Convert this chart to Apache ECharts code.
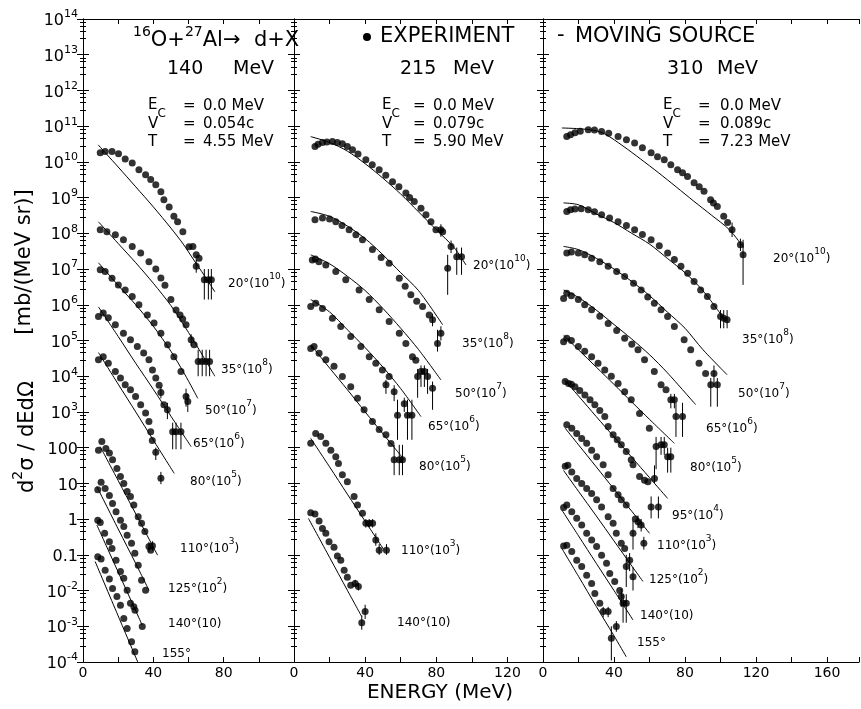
<!DOCTYPE html>
<html><head><meta charset="utf-8">
<script src="https://cdn.jsdelivr.net/npm/echarts@6/dist/echarts.min.js"></script>
<style>html,body{margin:0;padding:0;background:#fff}#c{width:861px;height:709px}</style>
</head><body><div id="c"></div>
<script>
// ---------- axis tick labels ----------
const yTickLabels = ['10^-4','10^-3','10^-2','0.1','1','10','100','10^3','10^4','10^5','10^6','10^7','10^8','10^9','10^10','10^11','10^12','10^13','10^14'];
const xLabels1 = [0,40,80];
const xLabels2 = [0,40,80,120];
const xLabels3 = [0,40,80,120,160];
const xMax = [120,140,178];

// ---------- Panel 1 : 140 MeV  (d = data, f = moving-source fit, e = error bars [E, high, low]) ----------
const p1_d20 = [[9.8,1.8e10],[12.6,1.95e10],[16.5,1.95e10],[20.2,1.7e10],[24,1.2e10],[28,9.3e9],[31.8,6.0e9],[35.6,4.4e9],[38.5,3.2e9],[41.4,2.3e9],[44.3,1.45e9],[46,8.7e8],[49,5.5e8],[51.7,3.0e8],[53.8,2.1e8],[56.8,1.1e8],[60.3,4.2e7],[62.5,4.3e7],[64.4,2.5e7],[66,2.0e7],[64.4,1.2e7],[69,5.0e6],[71.3,5.0e6],[73,5.0e6]];
const p1_f20 = [[8.6,3.0e10],[20,7.2e9],[30,2.0e9],[40,5.5e8],[50,1.4e8],[57,5.0e7],[63,1.8e7],[69,6.6e6],[75,2.3e6]];
const p1_e20 = [[64.4,1.8e7,7.9e6],[69,1.0e7,1.4e6],[71.3,1.0e7,1.4e6],[73,1.0e7,1.4e6]];
const p1_d35 = [[9.8,1.26e8],[13.6,1.1e8],[18.4,9.1e7],[23,6.6e7],[28,4.3e7],[32.8,2.8e7],[37.5,1.6e7],[41.4,1.0e7],[44.3,5.6e6],[46.6,3.5e6],[50,1.4e6],[52.9,7.1e5],[55.2,5.2e5],[56.7,4.0e5],[58.6,2.75e5],[61.5,1.05e5],[63.2,7.6e4],[65.5,2.6e4],[67.8,2.6e4],[70,2.6e4],[72,2.6e4]];
const p1_f35 = [[8.8,2.1e8],[20,5.2e7],[30,1.5e7],[40,4.0e6],[50,9.5e5],[58,2.4e5],[66,5.6e4],[75,1.0e4]];
const p1_e35 = [[61.5,1.5e5,7e4],[65.5,5.5e4,1.0e4],[67.8,5.5e4,1.0e4],[70,5.5e4,1.0e4],[72,5.5e4,1.0e4]];
const p1_d50 = [[9.8,9.5e6],[12.6,8.5e6],[16.5,5.5e6],[20.1,3.6e6],[24,2.6e6],[28,1.7e6],[31.8,1.0e6],[36.6,5.2e5],[40.4,3.1e5],[44.3,1.6e5],[48.1,7.6e4],[51.7,3.5e4],[55.7,1.35e4],[58.6,2.7e3],[59.6,1.95e3]];
const p1_f50 = [[8.8,1.5e7],[20,3.5e6],[30,1.0e6],[40,2.5e5],[50,5.0e4],[58,1.1e4],[65.3,2.4e3]];
const p1_e50 = [[58.6,4.5e3,1.4e3],[59.6,3.2e3,1.0e3]];
const p1_d65 = [[8.8,4.7e5],[11.5,5.9e5],[14.4,4.3e5],[18.4,2.75e5],[23,1.6e5],[27,1.05e5],[30.9,6.8e4],[34.5,4.5e4],[37.5,2.9e4],[39.5,1.5e4],[41.4,8.9e3],[43.3,5.6e3],[44.3,3.5e3],[46,1.6e3],[48,1.15e3],[51,280],[52.9,280],[55.7,280]];
const p1_f65 = [[8.8,8.7e5],[20,1.3e5],[30,2.3e4],[40,4.3e3],[50,760],[61.5,107]];
const p1_e65 = [[44.3,5e3,2.4e3],[48,1.8e3,630],[51,500,90],[52.9,500,90],[55.7,500,90]];
const p1_d80 = [[8.8,2.9e4],[11.5,3.5e4],[14.4,2.3e4],[18.4,1.35e4],[21.3,8.9e3],[24,5.8e3],[27,4.2e3],[29.9,2.7e3],[32.8,1.6e3],[35.6,930],[37.5,540],[38.5,280],[39.4,160],[41.4,74],[44.3,14]];
const p1_f80 = [[8.8,4.6e4],[20,6.0e3],[30,1.0e3],[40,162],[51.9,19]];
const p1_e80 = [[41.4,100,45],[44.3,21,9.5]];
const p1_d110 = [[8.8,85],[10.7,148],[13,95],[15,71],[16.8,46],[19.3,26],[21.3,15.5],[23.2,10],[25.1,5.9],[27,4.3],[28.9,2.5],[31.4,1.17],[33.3,0.76],[35.2,0.45],[37.5,0.17],[38.5,0.135],[39.5,0.18]];
const p1_f110 = [[9.8,107],[20,12],[30,1.4],[42.4,0.098]];
const p1_e110 = [[37.5,0.23,0.12],[39.5,0.24,0.13]];
const p1_d125 = [[8.4,6.6],[10.3,10.7],[12.6,7.2],[15,4.6],[16.8,2.75],[18.8,1.6],[21.3,0.93],[23.2,0.62],[25.1,0.355],[27.6,0.21],[29.5,0.11],[31.4,0.051],[33.3,0.0195],[35.6,0.0102]];
const p1_f125 = [[7.9,8.1],[20,0.53],[30,0.057],[37.5,0.0102]];
const p1_d140 = [[8.4,0.93],[9.8,0.81],[12.3,0.40],[15,0.234],[16.5,0.15],[18.8,0.071],[21.3,0.034],[23.2,0.022],[25.1,0.0102],[27,0.0044],[28.9,0.0035],[29.6,0.0028],[33.7,0.00098]];
const p1_f140 = [[7.9,0.68],[20,0.033],[30,0.0027],[33.7,0.00107]];
const p1_d155 = [[8.4,0.089],[10.3,0.076],[12.6,0.037],[15,0.021],[16.8,0.0115],[19.3,0.0068],[21.3,0.0039],[23.2,0.00166],[25.1,0.00087],[27.6,0.00037],[29.5,0.000195]];
const p1_f155 = [[6.9,0.065],[20,0.00195],[31.4,9.3e-5]];

// ---------- Panel 2 : 215 MeV ----------
const p2_d20 = [[11.8,2.7e10],[13.5,3.1e10],[16,3.5e10],[18.5,3.6e10],[21.6,3.7e10],[24.4,3.5e10],[27.2,3.2e10],[30,2.7e10],[32.9,2.2e10],[36,1.66e10],[40.4,1.15e10],[44,8.3e9],[47.9,6.0e9],[51.6,4.2e9],[55.4,2.8e9],[59,2.0e9],[62.9,1.35e9],[65,1.0e9],[67.6,7.8e8],[71.4,5.0e8],[74.2,3.3e8],[77,2.1e8],[79.8,1.26e8],[82.6,1.26e8],[83.6,1.1e8],[88.3,4.3e7],[86.4,1.05e7],[91.5,2.2e7],[94.2,2.2e7]];
const p2_f20 = [[9.4,5.1e10],[20,3.5e10],[30,2.0e10],[40,8.9e9],[50,3.5e9],[60,1.26e9],[70,4.0e8],[80,1.26e8],[90,4.0e7],[96.7,1.3e7]];
const p2_e20 = [[82.6,1.8e8,8e7],[88.3,6.3e7,2.8e7],[86.4,2.5e7,1.9e6],[91.5,4.0e7,6.9e6],[94.2,4.0e7,6.9e6]];
const p2_d35 = [[11.8,2.4e8],[16,2.7e8],[20,2.5e8],[23.5,2.1e8],[27,1.66e8],[31,1.26e8],[34.8,9.1e7],[38.5,6.6e7],[44.1,3.5e7],[49,2.1e7],[53.5,1.45e7],[59.2,5.5e6],[62.5,3.3e6],[65.7,1.9e6],[69,1.26e6],[72.3,8.9e5],[76,5.2e5],[77.9,3.8e5],[82.6,1.6e5],[80.7,8.3e4]];
const p2_f35 = [[9.4,4.1e8],[20,3.0e8],[30,1.6e8],[40,7.1e7],[50,2.5e7],[60,7.9e6],[70,2.5e6],[83.6,2.75e5]];
const p2_e35 = [[77.9,5.6e5,2.5e5],[80.7,2.0e5,4.9e4],[82.6,2.5e5,1.0e5]];
const p2_d50 = [[10.3,1.8e7],[12,1.9e7],[14,1.6e7],[17.9,1.3e7],[23.5,8.5e6],[29.1,5.0e6],[36.6,2.6e6],[42.3,1.4e6],[47.9,7.2e5],[53.5,3.4e5],[59.2,1.6e5],[62.9,8.3e4],[66.6,3.5e4],[68.5,2.8e4],[69.5,9.8e3],[71.4,1.35e4],[73.3,1.35e4],[75.1,9.8e3],[77.9,4.6e3]];
const p2_f50 = [[9.4,2.5e7],[20,1.4e7],[30,6.3e6],[40,2.5e6],[50,7.9e5],[60,2.2e5],[70,5.6e4],[82.6,7.9e3]];
const p2_e50 = [[69.5,1.6e4,2.5e3],[71.4,2.0e4,5.0e3],[73.3,2.0e4,5.0e3],[75.1,1.6e4,3.2e3],[77.9,7.1e3,1.15e3]];
const p2_d65 = [[9.4,8.9e5],[12.2,1.1e6],[16,7.9e5],[21.6,4.2e5],[26.3,2.45e5],[31.9,1.3e5],[37.6,6.8e4],[42.3,3.5e4],[46,2.3e4],[49.7,1.5e4],[53.5,9.8e3],[51.7,5.8e3],[56.3,3.7e3],[62,1.7e3],[58.2,810],[63.8,810],[66.3,810]];
const p2_f65 = [[9.4,1.4e6],[20,6.3e5],[30,2.0e5],[40,6.3e4],[50,1.8e4],[60,4.5e3],[71.4,740]];
const p2_e65 = [[51.7,7.9e3,3.2e3],[56.3,5.6e3,2.0e3],[62,2.5e3,1.0e3],[58.2,2.2e3,166],[63.8,2.2e3,166],[66.3,2.2e3,166]];
const p2_d80 = [[9.4,6.0e4],[11.3,6.8e4],[14.1,4.4e4],[17.9,2.9e4],[22.5,1.9e4],[27.2,9.8e3],[31.9,5.1e3],[35.7,2.4e3],[39.4,1.15e3],[44.1,540],[47.9,320],[51.7,230],[54.5,130],[56.3,46],[59.2,46],[61,46]];
const p2_f80 = [[9.4,7.6e4],[20,1.7e4],[30,4.2e3],[40,1.0e3],[50,245],[62,46]];
const p2_e80 = [[56.3,120,17],[59.2,120,17],[61,120,17]];
const p2_d110 = [[9.4,132],[12.2,250],[15,204],[17.9,132],[20.7,85],[23.5,56],[25,36],[27.2,17.4],[30,11.2],[33.8,4.3],[35.7,2.5],[38.5,1.45],[40.4,0.76],[42.3,0.76],[44.2,0.76],[46,0.26],[47.9,0.135],[52,0.135]];
const p2_f110 = [[9.4,182],[20,29],[30,5.0],[40,0.87],[50.7,0.135]];
const p2_e110 = [[40.4,1.0,0.58],[42.3,1.0,0.58],[44.2,1.0,0.58],[46,0.4,0.18],[47.9,0.2,0.1],[52,0.2,0.1]];
const p2_d140 = [[9.4,1.5],[11.8,1.38],[14.1,0.89],[16,0.55],[17.9,0.40],[19.7,0.234],[22.5,0.162],[24.4,0.093],[26.3,0.071],[28.2,0.037],[30,0.0234],[31.9,0.0141],[34.4,0.0158],[36.2,0.0129],[38.1,0.00126],[40,0.0026]];
const p2_f140 = [[8.1,1.05],[20,0.085],[30,0.0102],[38.1,0.00186]];
const p2_e140 = [[34.4,0.02,0.0125],[36.2,0.0165,0.01],[38.1,0.002,0.0008],[40,0.004,0.0016]];

// ---------- Panel 3 : 310 MeV ----------
const p3_d20 = [[13.4,5.1e10],[15.5,5.75e10],[18,6.5e10],[21,7.2e10],[25.5,7.9e10],[29,7.8e10],[33,7.1e10],[37,6.3e10],[42.3,5.1e10],[47,4.2e10],[51.6,3.4e10],[56,2.5e10],[60.9,1.8e10],[64.5,1.4e10],[68.3,1.15e10],[72,8.3e9],[75.8,6.0e9],[78.6,5.0e9],[81.4,3.9e9],[85.1,2.6e9],[88,2.0e9],[90.7,1.5e9],[94.4,8.7e8],[96,7.1e8],[98.2,5.6e8],[101.8,3.0e8],[104,2.0e8],[106.5,1.26e8],[111.2,4.8e7],[112.7,2.5e7]];
const p3_f20 = [[10.6,8.9e10],[20,8.5e10],[29,7.6e10],[35,6.0e10],[45,2.8e10],[55,1.2e10],[65,5.0e9],[75,2.0e9],[85,7.9e8],[95,3.2e8],[105,1.26e8],[113,4.0e7]];
const p3_e20 = [[106.5,2.0e8,7.9e7],[111.2,7.1e7,3.2e7],[112.7,6.6e7,3.6e6]];
const p3_d35 = [[13.4,4.1e8],[15.5,4.6e8],[18,4.8e8],[21.5,4.9e8],[25.5,4.6e8],[29,4.0e8],[33,3.3e8],[37.5,2.7e8],[42.3,2.1e8],[47,1.66e8],[51.6,1.26e8],[56,9.3e7],[60.9,6.6e7],[65.5,4.5e7],[70.2,2.8e7],[74,1.86e7],[77.7,1.2e7],[81.5,7.6e6],[85.1,4.5e6],[88.8,2.6e6],[92.6,1.7e6],[96.3,8.9e5],[100,4.7e5],[101.8,4.2e5],[103.7,3.8e5]];
const p3_f35 = [[11.6,7.1e8],[20,6.3e8],[30,3.5e8],[40,2.0e8],[50,1.0e8],[60,5.0e7],[70,2.0e7],[80,7.9e6],[90,2.5e6],[101.8,4.2e5]];
const p3_e35 = [[100,7.1e5,2.2e5],[101.8,7.1e5,2.2e5],[103.7,7.1e5,2.2e5]];
const p3_d50 = [[13.4,2.8e7],[16,3.0e7],[19.9,2.8e7],[23.5,2.5e7],[27.4,2.0e7],[32,1.6e7],[36.7,1.2e7],[41.5,8.5e6],[46,6.2e6],[51,4.0e6],[55.3,2.6e6],[59,1.66e6],[62.7,1.1e6],[66.5,7.2e5],[70.2,4.7e5],[74,2.45e5],[79.5,1.05e5],[83.2,5.5e4],[87.9,2.3e4],[91.6,1.2e4],[94.5,5.8e3],[96.3,1.2e4],[98.2,5.8e3]];
const p3_f50 = [[11.6,4.3e7],[20,3.5e7],[30,2.0e7],[40,1.0e7],[50,4.5e6],[60,1.8e6],[70,6.3e5],[80,2.2e5],[90,5.6e4],[103.7,1.1e4]];
const p3_e50 = [[94.5,8.9e3,1.4e3],[96.3,2.0e4,5.0e3],[98.2,8.9e3,1.4e3]];
const p3_d65 = [[11.6,1.5e6],[13.4,2.1e6],[16,1.8e6],[19.9,1.4e6],[23.5,1.0e6],[27.4,7.2e5],[32,4.8e5],[36.7,3.0e5],[41.5,1.9e5],[46,1.15e5],[50,7.9e4],[53.5,5.5e4],[57.2,2.9e4],[62.7,1.35e4],[66.5,5.8e3],[69.3,4.2e3],[72,2.2e3],[74,2.2e3],[74.9,740],[78.6,740]];
const p3_f65 = [[11.6,2.6e6],[20,1.6e6],[30,7.1e5],[40,2.8e5],[50,1.1e5],[60,4.0e4],[70,1.26e4],[86,1.6e3]];
const p3_e65 = [[72,3.2e3,1.26e3],[74,3.2e3,1.26e3],[74.9,1.8e3,200],[78.6,1.8e3,200]];
const p3_d80 = [[11.6,9.3e4],[13.4,1.15e5],[16,1.0e5],[19.9,6.8e4],[23.5,5.0e4],[27.4,3.5e4],[31,2.3e4],[34.8,1.5e4],[38.5,1.0e4],[42.3,6.3e3],[46,3.7e3],[49.7,2.2e3],[54.4,910],[59.9,350],[63.7,107],[66.5,120],[68.3,120],[70.2,56],[72,56]];
const p3_f80 = [[11.6,1.4e5],[20,5.5e4],[30,1.8e4],[40,5.9e3],[50,1.9e3],[60,620],[74,132]];
const p3_e80 = [[63.7,200,25],[66.5,200,63],[68.3,200,63],[70.2,100,20],[72,100,20]];
const p3_d95 = [[12.5,7.1e3],[14.4,6.3e3],[16,6.0e3],[18,5.1e3],[20.7,4.0e3],[23.6,3.0e3],[26.5,2.2e3],[29.2,1.6e3],[32,1.1e3],[34.8,740],[36.7,390],[39.5,230],[41.8,166],[44.1,120],[46.9,78],[49.7,46],[50.7,33],[54.4,15.5],[57.2,12.3],[59.1,11.2],[62.8,13.8],[60.9,2.2],[65,2.2]];
const p3_f95 = [[12,7.9e3],[20,2.8e3],[30,740],[40,200],[50,54],[60,14.5],[70.2,3.8]];
const p3_e95 = [[62.8,32,10],[60.9,4.3,1.05],[65,4.3,1.05]];
const p3_d110 = [[13.4,440],[16.2,350],[19,250],[21.8,180],[24.6,132],[27.4,85],[30.2,56],[33.9,33],[36.7,17.4],[39.5,7.2],[42.3,4.8],[44.1,3.5],[46.9,2.5],[50.7,0.4],[52,1.0],[53.5,0.85],[55.3,0.68],[56.8,0.21]];
const p3_f110 = [[12.5,350],[20,120],[30,29],[40,6.9],[50,1.66],[60,0.4]];
const p3_e110 = [[50.7,0.89,0.14],[53.5,1.26,0.56],[55.3,1.0,0.45],[56.8,0.32,0.14]];
const p3_d125 = [[12.5,30],[14,32],[16.2,21],[19,13.8],[21.8,10],[24.6,7.2],[27.4,5.2],[30.2,3.5],[33,2.2],[36.7,1.17],[39.5,0.76],[41.3,0.4],[44.1,0.21],[46,0.15],[46.9,0.047],[48.8,0.071],[50.7,0.0245]];
const p3_f125 = [[11.6,23],[20,6.0],[30,1.23],[40,0.245],[50,0.049],[56.3,0.018]];
const p3_e125 = [[46.9,0.1,0.0126],[48.8,0.112,0.035],[50.7,0.045,0.01]];
const p3_d140 = [[11.6,2.1],[13.4,2.5],[16.2,1.6],[19,1.05],[21.8,0.68],[24.6,0.4],[27.4,0.26],[30.2,0.17],[33,0.098],[35.8,0.058],[37.6,0.030],[40.4,0.0178],[43.2,0.01],[44.1,0.0068],[45.1,0.0044],[46.9,0.0044]];
const p3_f140 = [[10.6,1.8],[20,0.34],[30,0.058],[40,0.01],[50.7,0.0015]];
const p3_e140 = [[44.1,0.0112,0.0035],[45.1,0.0079,0.00126],[46.9,0.0079,0.00126]];
const p3_d155 = [[11.6,0.178],[13.4,0.186],[16.2,0.123],[19,0.071],[21.8,0.047],[24.6,0.027],[27.4,0.0158],[29.2,0.0083],[32,0.0044],[33.9,0.0026],[36.7,0.0026],[38.5,4.6e-4],[41.3,9.8e-4]];
const p3_f155 = [[10.6,0.151],[20,0.025],[30,0.0036],[40,5.4e-4],[46.9,1.4e-4]];
const p3_e155 = [[33.9,0.0035,0.0018],[36.7,0.0035,0.0018],[38.5,0.001,1.1e-4],[41.3,0.0014,7e-4]];

// ---------- panel text ----------
const beamEnergies = ['140','215','310'];
const paramV = ['0.054c','0.079c','0.089c'];
const paramT = ['4.55 MeV','5.90 MeV','7.23 MeV'];
// curve labels: angle, multiplier exponent ('' = none, '1' = (10))
const labels1 = [['20°','10'],['35°','8'],['50°','7'],['65°','6'],['80°','5'],['110°','3'],['125°','2'],['140°','1'],['155°','']];
const labels2 = [['20°','10'],['35°','8'],['50°','7'],['65°','6'],['80°','5'],['110°','3'],['140°','1']];
const labels3 = [['20°','10'],['35°','8'],['50°','7'],['65°','6'],['80°','5'],['95°','4'],['110°','3'],['125°','2'],['140°','1'],['155°','']];

// ---------- layout (pixels) ----------
const FONT = 'DejaVu Sans';
const G = [{left:83,w:211},{left:294,w:249},{left:543,w:316}];
const TOP = 19, H = 643;
const labelPos1 = [[228,281],[221,367],[205,408],[193,441],[190,479],[180,546],[168,586],[168,621],[162,651]];
const labelPos2 = [[473,263],[462,341],[455,391],[428,424],[419,464],[401,548],[397,620]];
const labelPos3 = [[773,256],[742,337],[738,391],[706,426],[690,465],[672,513],[657,543],[649,577],[640,613],[637,640]];
const titlePos = [[167,233],[400,453],[667,717]];
const paramPos = [[148,183,203],[382,413,433],[663,698,720]];

const panelSets = [
  [[p1_d20,p1_f20,p1_e20],[p1_d35,p1_f35,p1_e35],[p1_d50,p1_f50,p1_e50],[p1_d65,p1_f65,p1_e65],[p1_d80,p1_f80,p1_e80],[p1_d110,p1_f110,p1_e110],[p1_d125,p1_f125,[]],[p1_d140,p1_f140,[]],[p1_d155,p1_f155,[]]],
  [[p2_d20,p2_f20,p2_e20],[p2_d35,p2_f35,p2_e35],[p2_d50,p2_f50,p2_e50],[p2_d65,p2_f65,p2_e65],[p2_d80,p2_f80,p2_e80],[p2_d110,p2_f110,p2_e110],[p2_d140,p2_f140,p2_e140]],
  [[p3_d20,p3_f20,p3_e20],[p3_d35,p3_f35,p3_e35],[p3_d50,p3_f50,p3_e50],[p3_d65,p3_f65,p3_e65],[p3_d80,p3_f80,p3_e80],[p3_d95,p3_f95,p3_e95],[p3_d110,p3_f110,p3_e110],[p3_d125,p3_f125,p3_e125],[p3_d140,p3_f140,p3_e140],[p3_d155,p3_f155,p3_e155]]
];
const xLabelSets = [xLabels1,xLabels2,xLabels3];

const chart = echarts.init(document.getElementById('c'), null, {renderer:'canvas'});
const black = {color:'#000', width:1};

const grid = G.map(g => ({left:g.left, top:TOP, width:g.w, height:H, containLabel:false, outerBoundsMode:'none'}));
const xAxis = [], yAxis = [];
G.forEach((g,i) => {
  xAxis.push({type:'value', gridIndex:i, min:0, max:xMax[i], interval:20, position:'bottom',
    axisLine:{show:true, lineStyle:black}, axisTick:{show:true, inside:true, length:5, lineStyle:black},
    axisLabel:{show:true, margin:4, color:'#000', fontSize:14, fontFamily:FONT, showMaxLabel:true, showMinLabel:true,
      formatter: v => xLabelSets[i].indexOf(v) >= 0 ? String(v) : ''},
    splitLine:{show:false}});
});
G.forEach((g,i) => {
  xAxis.push({type:'value', gridIndex:i, min:0, max:xMax[i], interval:20, position:'top',
    axisLine:{show:true, lineStyle:black}, axisTick:{show:true, inside:true, length:5, lineStyle:black},
    axisLabel:{show:false}, splitLine:{show:false}});
});
const yRich = {
  b:{fontSize:16, fontFamily:FONT, color:'#000', lineHeight:20, verticalAlign:'bottom'},
  s:{fontSize:11, fontFamily:FONT, color:'#000', verticalAlign:'top'}
};
function yFmt(v){
  const e = Math.round(Math.log10(v));
  const s = yTickLabels[e+4];
  if (!s) return '';
  const m = s.split('^');
  return m.length > 1 ? '{b|'+m[0]+'}{s|'+m[1]+'}' : '{b|'+s+'}';
}
['left','right'].forEach(pos => {
  G.forEach((g,i) => {
    yAxis.push({type:'log', logBase:10, gridIndex:i, min:1e-4, max:1e14, interval:1, position:pos,
      axisLine:{show:true, lineStyle:black},
      axisTick:{show:true, inside:true, length:6, lineStyle:black},
      minorTick:{show:true, splitNumber:5, length:3, lineStyle:black},
      axisLabel:(pos==='left' && i===0) ? {show:true, margin:5, formatter:yFmt, rich:yRich, interval:0, hideOverlap:false} : {show:false},
      splitLine:{show:false}, minorSplitLine:{show:false}});
  });
});

function errItem(params, api){
  const x = api.value(0);
  const p1 = api.coord([x, api.value(1)]);
  const p2 = api.coord([x, api.value(2)]);
  return {type:'line', shape:{x1:p1[0], y1:p1[1], x2:p2[0], y2:p2[1]}, style:{stroke:'#000', lineWidth:1}};
}

const series = [];
panelSets.forEach((sets,i) => {
  sets.forEach(([d,f,e]) => {
    series.push({type:'line', xAxisIndex:i, yAxisIndex:i, data:f, symbol:'none', smooth:0.3,
      lineStyle:{color:'#000', width:1}, silent:true, z:2, animation:false});
    if (e.length) series.push({type:'custom', xAxisIndex:i, yAxisIndex:i, data:e, renderItem:errItem,
      encode:{x:0, y:[1,2]}, silent:true, z:3, animation:false});
    series.push({type:'scatter', xAxisIndex:i, yAxisIndex:i, data:d, symbol:'circle', symbolSize:7,
      itemStyle:{color:'#000'}, silent:true, z:4, animation:false});
  });
});

// ---------- graphic text ----------
const gfx = [];
function T(x, y, text, size, extra){
  const st = Object.assign({text:text, fontSize:size, fontFamily:FONT, fill:'#000', align:'left', verticalAlign:'middle'}, extra || {});
  return {type:'text', x:x, y:y, z:100, style:st};
}
// header
gfx.push(T(133, 38, '{s|16}{b|O+}{s|27}{b|Al→  d+X}', 21, {rich:{
  b:{fontSize:21, fontFamily:FONT, fill:'#000', lineHeight:26, verticalAlign:'bottom'},
  s:{fontSize:14, fontFamily:FONT, fill:'#000', verticalAlign:'top'}}}));
gfx.push({type:'circle', z:100, shape:{cx:367, cy:37, r:4}, style:{fill:'#000'}});
gfx.push(T(380, 37, 'EXPERIMENT', 21));
gfx.push(T(557, 36, '-', 21));
gfx.push(T(575, 37, 'MOVING SOURCE', 21));
// energies & parameters
const pRich = {b:{fontSize:15, fontFamily:FONT, fill:'#000', lineHeight:22, verticalAlign:'top'}, c:{fontSize:12, fontFamily:FONT, fill:'#000', verticalAlign:'bottom'}};
for (let i=0;i<3;i++){
  gfx.push(T(titlePos[i][0], 69, beamEnergies[i], 19));
  gfx.push(T(titlePos[i][1], 69, 'MeV', 19));
  const [a,b,c] = paramPos[i];
  gfx.push(T(a, 109, '{b|E}{c|C}', 15, {rich:pRich}));
  gfx.push(T(b, 106, '=', 15)); gfx.push(T(c, 106, '0.0 MeV', 15));
  gfx.push(T(a, 124, 'V', 15)); gfx.push(T(b, 124, '=', 15)); gfx.push(T(c, 124, paramV[i], 15));
  gfx.push(T(a, 142, 'T', 15)); gfx.push(T(b, 142, '=', 15)); gfx.push(T(c, 142, paramT[i], 15));
}
// curve labels
const lRich = {n:{fontSize:12, fontFamily:FONT, fill:'#000', lineHeight:17, verticalAlign:'bottom'},
               s:{fontSize:9, fontFamily:FONT, fill:'#000', verticalAlign:'top'}};
function angleLabel(spec){
  const [ang, ex] = spec;
  if (ex === '') return '{n|'+ang+'}';
  if (ex === '1') return '{n|'+ang+'(10)}';
  return '{n|'+ang+'(10}{s|'+ex+'}{n|)}';
}
[[labels1,labelPos1],[labels2,labelPos2],[labels3,labelPos3]].forEach(([L,P]) => {
  L.forEach((spec,k) => gfx.push(T(P[k][0], P[k][1], angleLabel(spec), 12, {rich:lRich})));
});
// axis titles
gfx.push(T(440, 693, 'ENERGY (MeV)', 20, {align:'center'}));
gfx.push({type:'text', x:25, y:262, rotation:Math.PI/2, z:100, style:{text:'[mb/(MeV sr)]', fontSize:21, fontFamily:FONT, fill:'#000', align:'center', verticalAlign:'middle'}});
gfx.push({type:'text', x:25, y:437, rotation:Math.PI/2, z:100, style:{text:'{b|d}{s|2}{b|σ / dEdΩ}', fontSize:21, fontFamily:FONT, fill:'#000', align:'center', verticalAlign:'middle',
  rich:{b:{fontSize:21, fontFamily:FONT, fill:'#000', lineHeight:27, verticalAlign:'bottom'}, s:{fontSize:14, fontFamily:FONT, fill:'#000', verticalAlign:'top'}}}});

chart.setOption({
  animation:false,
  backgroundColor:'#fff',
  textStyle:{fontFamily:FONT, color:'#000'},
  grid:grid, xAxis:xAxis, yAxis:yAxis, series:series, graphic:gfx
});
</script></body></html>
